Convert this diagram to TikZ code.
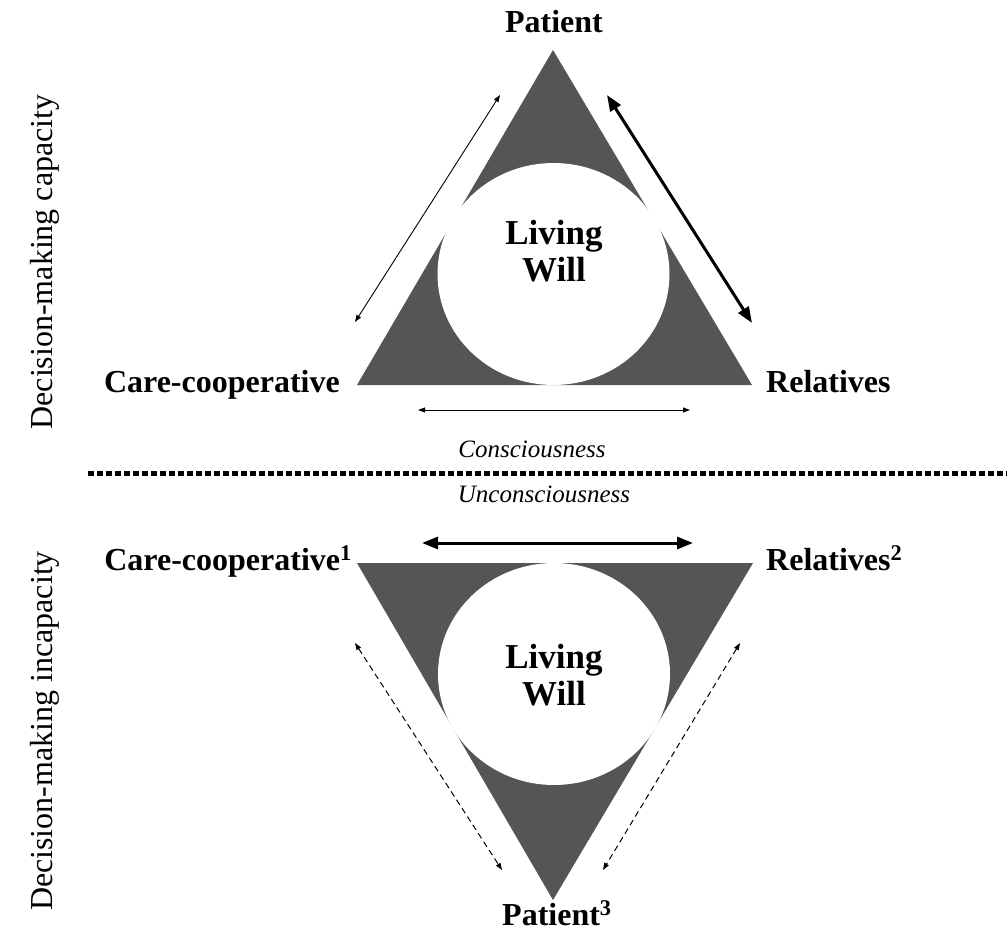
\documentclass[tikz,border=0pt]{standalone}
\usepackage{fontspec}
\setmainfont{Liberation Serif}
\usetikzlibrary{arrows.meta, positioning}

\tikzset{
  role/.style={font=\bfseries\fontsize{32}{36}\selectfont, inner sep=0pt},
  will/.style={font=\bfseries\fontsize{35}{37}\selectfont, align=center, inner sep=0pt},
  state/.style={font=\itshape\fontsize{25}{28}\selectfont, inner sep=0pt},
  side/.style={font=\fontsize{32}{36}\selectfont, rotate=90, inner sep=0pt},
  wedge/.style={fill={rgb,255:red,85;green,85;blue,85}},
  weaklink/.style={{Triangle[length=7pt,width=5pt]}-{Triangle[length=7pt,width=5pt]}, line width=0.9pt},
  stronglink/.style={{Triangle[length=16pt,width=12pt]}-{Triangle[length=16pt,width=12pt]}, line width=3pt},
  dashlink/.style={{Triangle[length=7pt,width=5pt]}-{Triangle[length=7pt,width=5pt]}, line width=1pt, dash pattern=on 6pt off 4pt}
}

\begin{document}
\begin{tikzpicture}[x=1pt, y=-1pt]
  \useasboundingbox (0,0) rectangle (1007,933);

  % Upper triangle
  \coordinate (p) at (553, 50);
  \coordinate (c) at (357, 385);
  \coordinate (r) at (752, 385);
  \fill[wedge] (p) -- (c) -- (r) -- cycle;
  \fill[white] (553.5, 274) ellipse [x radius=116, y radius=111];
  \node[will] (will) at (554, 251) {Living\\Will};

  \node[role, anchor=base] (patient) at (554, 33) {Patient};
  \node[role, anchor=base east] (care) at (340, 392) {Care-cooperative};
  \node[role, anchor=base west] (rel) at (766, 392) {Relatives};

  % Edges
  \coordinate (cp1) at (355, 322);
  \coordinate (cp2) at (500, 95);
  \coordinate (pr1) at (607, 95);
  \coordinate (pr2) at (752, 323);
  \coordinate (cr1) at (418, 410);
  \coordinate (cr2) at (690, 410);
  \draw[weaklink] (cp1) -- (cp2);
  \draw[stronglink] (pr1) -- (pr2);
  \draw[weaklink] (cr1) -- (cr2);

  % Divider
  \node[state, anchor=base] (con) at (532, 457) {Consciousness};
  \node[state, anchor=base] (uncon) at (544, 502) {Unconsciousness};
  \coordinate (d1) at (88, 473);
  \coordinate (d2) at (1007, 473);
  \draw[line width=5pt, dash pattern=on 5.5pt off 3.5pt] (d1) -- (d2);

  % Lower triangle
  \coordinate (lc) at (357, 563);
  \coordinate (lr) at (753, 563);
  \coordinate (lp) at (553, 900);
  \fill[wedge] (lc) -- (lr) -- (lp) -- cycle;
  \fill[white] (554, 674) ellipse [x radius=116, y radius=111];
  \node[will] (lwill) at (554, 675) {Living\\Will};

  \node[role, anchor=base east] (lcare) at (352, 570) {Care-cooperative\textsuperscript{1}};
  \node[role, anchor=base west] (lrel) at (766, 570) {Relatives\textsuperscript{2}};
  \node[role, anchor=base west] (lpatient) at (502, 925) {Patient\textsuperscript{3}};

  % Edges
  \coordinate (lcr1) at (422, 543);
  \coordinate (lcr2) at (693, 543);
  \coordinate (lcp1) at (355, 643);
  \coordinate (lcp2) at (502, 870);
  \coordinate (lrp1) at (740, 643);
  \coordinate (lrp2) at (603, 870);
  \draw[stronglink] (lcr1) -- (lcr2);
  \draw[dashlink] (lcp1) -- (lcp2);
  \draw[dashlink] (lrp1) -- (lrp2);

  % Side labels
  \node[side, anchor=base] (cap) at (52, 262) {Decision-making capacity};
  \node[side, anchor=base] (incap) at (52, 731) {Decision-making incapacity};
\end{tikzpicture}
\end{document}
